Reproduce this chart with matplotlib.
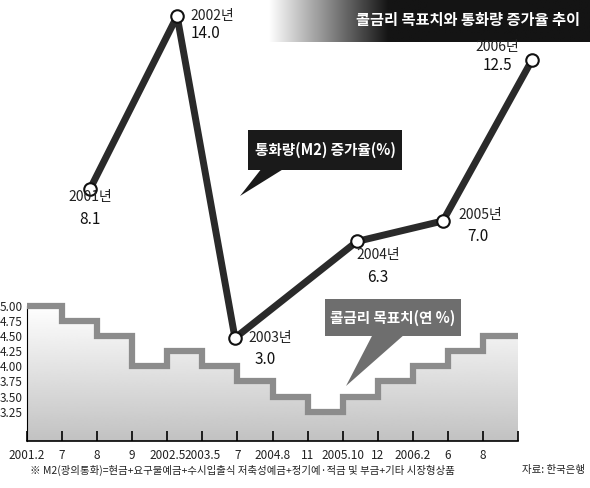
import numpy as np
import matplotlib; matplotlib.use("Agg")
import matplotlib.pyplot as plt
from matplotlib.patches import Polygon, Rectangle

plt.rcParams['font.family'] = ['Noto Sans CJK KR', 'DejaVu Sans']

# 콜금리 목표치 (구간별)
tick_labels = ["2001.2","7","8","9","2002.5","2003.5","7","2004.8","11","2005.10","12","2006.2","6","8",""]
rate = [5.00,4.75,4.50,4.00,4.25,4.00,3.75,3.50,3.25,3.50,3.75,4.00,4.25,4.50]
# 통화량(M2) 증가율
m2_year = ["2001년","2002년","2003년","2004년","2005년","2006년"]
m2_val = [8.1,14.0,3.0,6.3,7.0,12.5]
m2_x = [1.8,4.28,5.93,9.41,11.86,14.4]

W,H = 590,488
fig = plt.figure(figsize=(W/100,H/100),dpi=100)
def px(x,y): return (x/W, 1-y/H)
L,R,T,B = 27,518,0,441
ax = fig.add_axes([L/W,1-B/H,(R-L)/W,(B-T)/H])
ylo,yhi = 2.77,10.03
ax.set_xlim(0,14); ax.set_ylim(ylo,yhi)

xs = np.repeat(np.arange(15),2)[1:-1]
ys = np.repeat(rate,2)
# gradient fill under steps
grad = np.linspace(0.76,1.0,256).reshape(-1,1)
im = ax.imshow(grad,cmap="gray",vmin=0,vmax=1,extent=[0,14,5.0,ylo],aspect="auto",zorder=1)
poly = Polygon(list(zip(xs,ys))+[(14,ylo),(0,ylo)],closed=True,transform=ax.transData,facecolor="none",edgecolor="none")
ax.add_patch(poly); im.set_clip_path(poly)
ax.plot(xs,ys,color="#8c8c8c",lw=4.5,solid_joinstyle="miter",zorder=3)

ax.set_yticks([5.0,4.75,4.5,4.25,4.0,3.75,3.5,3.25])
ax.set_yticklabels([f"{v:.2f}" for v in ax.get_yticks()],fontsize=8.5,color="#222")
ax.set_xticks(range(15)); ax.set_xticklabels(tick_labels,fontsize=8.5,color="#222")
ax.tick_params(axis="y",length=0,pad=3)
ax.tick_params(axis="x",direction="in",length=7,width=1.2,pad=6)
for s in ["top","right"]: ax.spines[s].set_visible(False)
ax.spines["left"].set_bounds(ylo,5.0)
ax.spines["bottom"].set_linewidth(1.2)
ax.set_facecolor("none")

ax2 = ax.twinx()
ax2.set_ylim(-0.52,14.55); ax2.set_xlim(0,14); ax2.axis("off")
ax2.plot(m2_x,m2_val,color="#2a2a2a",lw=5,zorder=4,clip_on=False,solid_capstyle="butt")
ax2.plot(m2_x,m2_val,"o",ms=9,mfc="white",mec="#111",mew=1.5,zorder=5,clip_on=False)

lab_year = [(90,197),(212,16),(270,338),(378,255),(480,215),(497,47)]
lab_val  = [(90,219),(205,34),(265,359),(378,277),(478,237),(497,66)]
for yr,v,(a,b),(c,d) in zip(m2_year,m2_val,lab_year,lab_val):
    fig.text(*px(a,b),yr,fontsize=10,ha="center",va="center",color="#222",zorder=10)
    fig.text(*px(c,d),f"{v:.1f}",fontsize=11,ha="center",va="center",color="#111",zorder=10)

# title bar with gradient
tax = fig.add_axes([268/W,1-42/H,322/W,42/H]); tax.axis("off")
g = np.concatenate([np.linspace(1,0.08,120),np.full(200,0.08)]).reshape(1,-1)
tax.imshow(g,cmap="gray",vmin=0,vmax=1,aspect="auto",extent=[0,1,0,1])
tax.set_xlim(0,1); tax.set_ylim(0,1)
fig.text(*px(580,20),"콜금리 목표치와 통화량 증가율 추이",fontsize=11,fontweight="bold",color="white",ha="right",va="center")

# callouts
def callout(x0,y0,x1,y1,tail,fc,txt):
    fig.patches.append(Rectangle(px(x0,y1),(x1-x0)/W,(y1-y0)/H,transform=fig.transFigure,facecolor=fc,edgecolor="none"))
    fig.patches.append(Polygon([px(*p) for p in tail],closed=True,transform=fig.transFigure,facecolor=fc,edgecolor="none"))
    fig.text(*px((x0+x1)/2,(y0+y1)/2),txt,fontsize=10.5,fontweight="bold",color="white",ha="center",va="center")
callout(248,130,402,170,[(262,168),(285,168),(240,196)],"#1a1a1a","통화량(M2) 증가율(%)")
callout(325,299,461,336,[(373,334),(405,334),(346,386)],"#6e6e6e","콜금리 목표치(연 %)")

fig.text(*px(30,470),"※ M2(광의통화)=현금+요구불예금+수시입출식 저축성예금+정기예·적금 및 부금+기타 시장형상품",fontsize=7.5,color="#222",va="center")
fig.text(*px(585,470),"자료: 한국은행",fontsize=7.5,color="#222",va="center",ha="right")
fig.savefig("out.png",dpi=100)
